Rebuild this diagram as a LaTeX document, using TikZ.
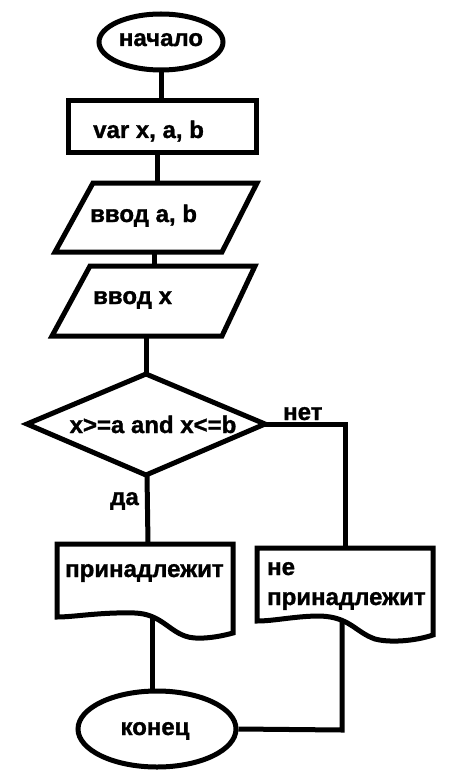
\documentclass[tikz,border=0pt]{standalone}
\usepackage{fontspec}
\setmainfont{Liberation Sans}
\newfontfamily\heavyfont[FakeBold=1.2]{Liberation Sans Bold}
\usetikzlibrary{shapes.geometric}
\begin{document}
\begin{tikzpicture}[x=1pt,y=-1pt,
  blk/.style={draw=black,line width=5pt},
  conn/.style={draw=black,line width=5pt},
  lbl/.style={inner sep=0pt,font=\heavyfont\fontsize{24}{28}\selectfont}]
\useasboundingbox[fill=white] (0,0) rectangle (472,778);
% start
\node[blk,ellipse,minimum width=124pt,minimum height=56pt] (start) at (161,42) {};
\node[lbl,anchor=base] (tstart) at (161,46) {начало};
% var box
\node[blk,rectangle,minimum width=188pt,minimum height=52pt] (var) at (162,127) {};
\node[lbl,anchor=base west] (tvar) at (93,138) {var x, a, b};
% input a, b
\draw[blk] (93,183) -- (257,183) -- (222,252) -- (55,252) -- cycle;
\coordinate (in1top) at (157,183);
\coordinate (in1bot) at (154,252);
\node[lbl,anchor=base west] (tin1) at (90,222) {ввод a, b};
% input x
\draw[blk] (90,266) -- (255,266) -- (222,336) -- (52,336) -- cycle;
\coordinate (in2top) at (154,266);
\coordinate (in2bot) at (146,336);
\node[lbl,anchor=base west] (tin2) at (93,304) {ввод x};
% decision
\draw[blk] (146,374) -- (265,424) -- (146,475) -- (27,424) -- cycle;
\coordinate (dtop) at (146,374);
\coordinate (dbot) at (147,475);
\coordinate (dright) at (265,424);
\node[lbl,anchor=base] (tdec) at (153,433) {x>=a and x<=b};
\node[lbl,anchor=base west] (tno) at (283,420) {нет};
\node[lbl,anchor=base west] (tyes) at (110,505) {да};
% document 1
\draw[blk] (57,544) -- (233,544) -- (233,633)
  .. controls (215,638) and (195,640) .. (185,636)
  .. controls (168,630) and (160,614) .. (135,613)
  .. controls (100,612) and (75,617) .. (57,617) -- cycle;
\coordinate (d1top) at (148,544);
\coordinate (d1bot) at (152,618);
\node[lbl,anchor=base west] (td1) at (65,577) {принадлежит};
% document 2
\draw[blk] (257,548) -- (433,548) -- (433,635)
  .. controls (415,641) and (390,643) .. (375,639)
  .. controls (355,632) and (350,617) .. (320,616)
  .. controls (295,616) and (275,621) .. (257,621) -- cycle;
\coordinate (d2top) at (345,548);
\coordinate (d2bot) at (342,619);
\node[lbl,anchor=base west] (td2a) at (267,575) {не};
\node[lbl,anchor=base west] (td2b) at (267,605) {принадлежит};
% end
\node[blk,ellipse,minimum width=158pt,minimum height=76pt] (stop) at (157,729) {};
\node[lbl,anchor=base] (tstop) at (155,735) {конец};
% connectors
\draw[conn] (start.south) -- (var.north -| start.south);
\draw[conn] (in1top |- var.south) -- (in1top);
\draw[conn] (in1bot) -- (in2top);
\draw[conn] (in2bot) -- (dtop);
\draw[conn] (dbot) -- (d1top);
\draw[conn] (dright) -- (345,424) -- (d2top);
\draw[conn] (d1bot) -- (stop.north -| d1bot);
\draw[conn] (d2bot) -- (342,730) -- (stop.east);
\end{tikzpicture}
\end{document}
